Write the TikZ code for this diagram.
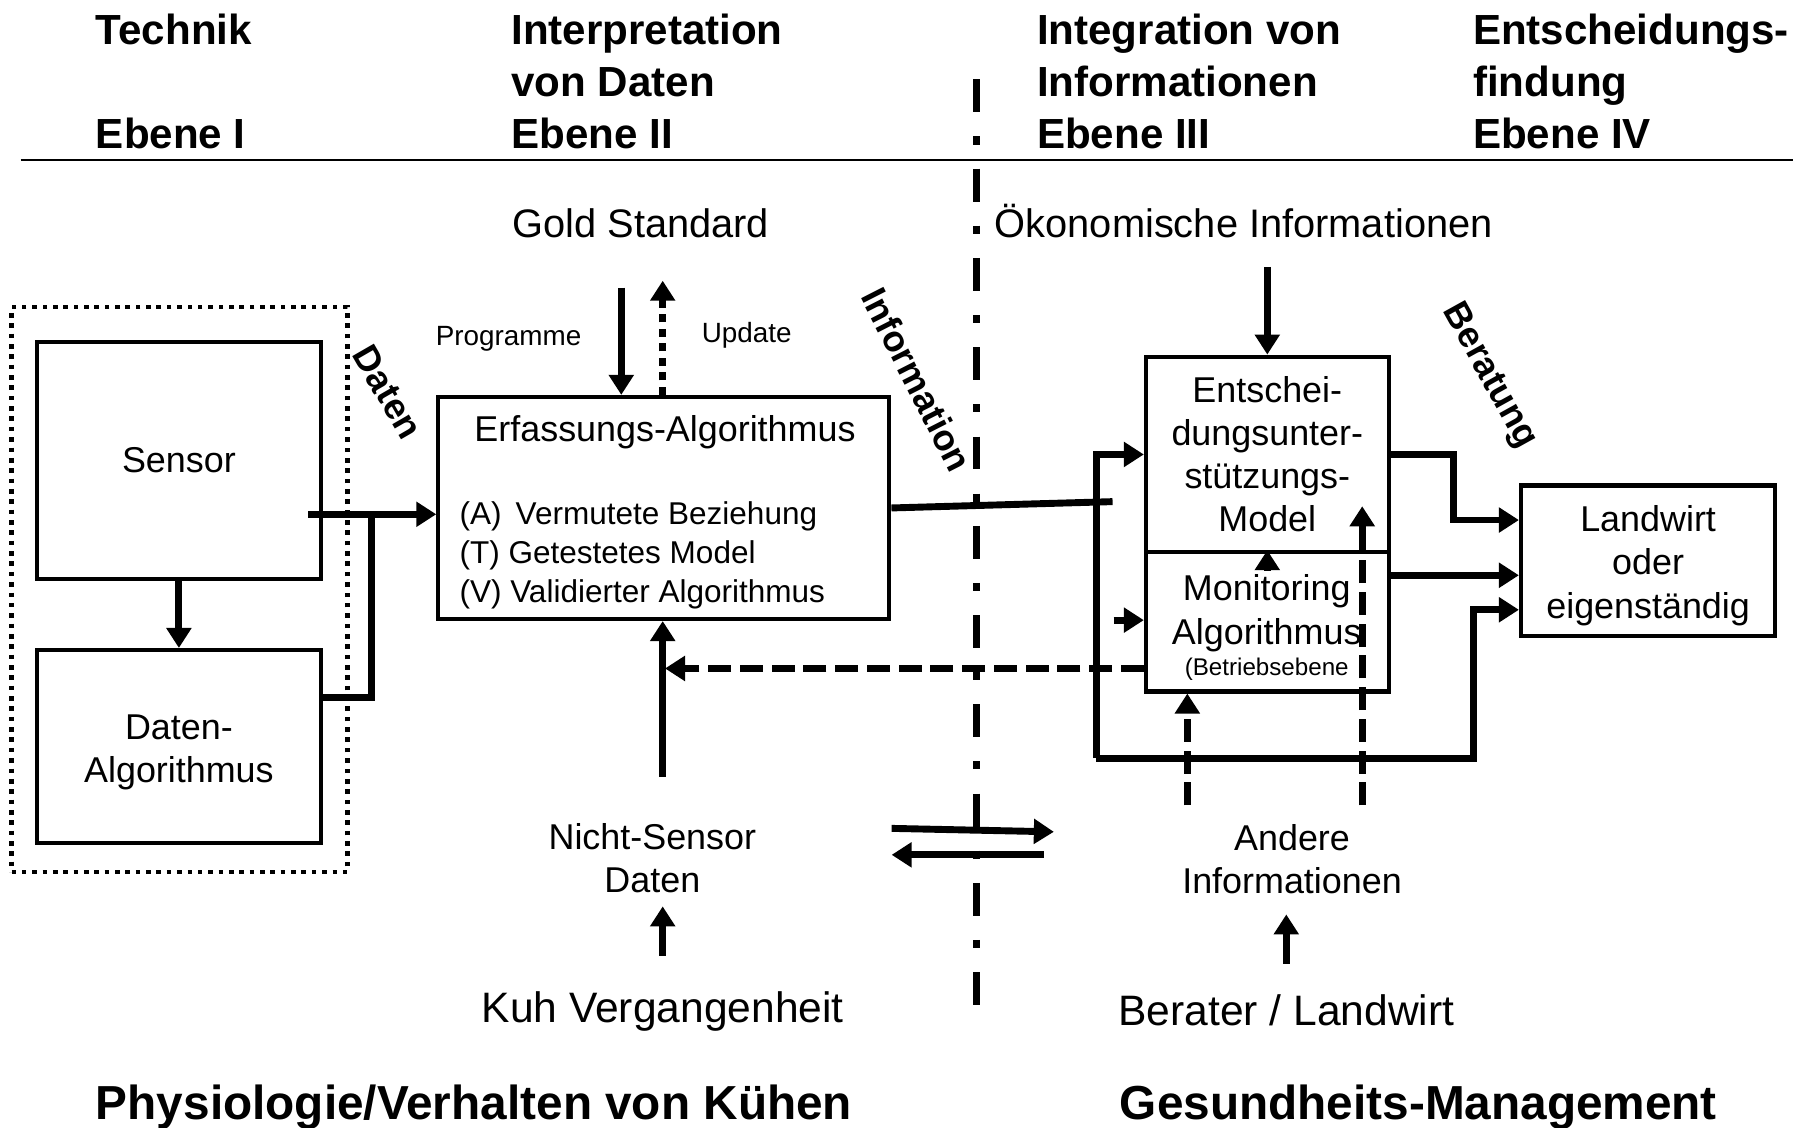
\documentclass[tikz,border=0pt]{standalone}
\usepackage{fontspec}
\setmainfont{Liberation Sans}
\usetikzlibrary{arrows.meta,positioning,calc}

\tikzset{
  box/.style={draw, line width=1.8pt, inner sep=0pt, align=center,
    font=\fontsize{15.6pt}{18.7pt}\selectfont},
  dotframe/.style={draw, line width=2pt, dash pattern=on 2pt off 2.5pt, inner sep=0pt},
  head/.style={anchor=north west, inner sep=0pt, align=left,
    font=\bfseries\fontsize{18.3pt}{22.5pt}\selectfont},
  foot/.style={anchor=base west, inner sep=0pt, font=\bfseries\fontsize{20.75pt}{24pt}\selectfont},
  txt/.style={inner sep=0pt, align=center, font=\fontsize{15.6pt}{18.7pt}\selectfont},
  bigtxt/.style={inner sep=0pt, anchor=base, font=\fontsize{17.3pt}{20pt}\selectfont},
  smalltxt/.style={inner sep=0pt, anchor=base, font=\fontsize{12.1pt}{14pt}\selectfont},
  rot/.style={inner sep=0pt, font=\bfseries\fontsize{15.8pt}{18pt}\selectfont},
  line/.style={line width=3pt},
  arr/.style={line width=3pt, -{Triangle[length=8.7pt,width=10.5pt]}},
  dasharr/.style={arr, dash pattern=on 10pt off 3.8pt},
  dotarr/.style={arr, dash pattern=on 3.5pt off 2.8pt},
  divider/.style={line width=3.2pt, dash pattern=on 14.3pt off 10.5pt on 3.5pt off 10.5pt}
}

\begin{document}
\begin{tikzpicture}[x=0.5pt, y=-0.5pt]
  \useasboundingbox (0,0) rectangle (1568,980);

  % headings
  \node[head] (h1) at (83,12) {Technik\\\mbox{}\\Ebene I};
  \node[head] (h2) at (444,12) {Interpretation\\von Daten\\Ebene II};
  \node[head] (h3) at (901,12) {Integration von\\Informationen\\Ebene III};
  \node[head] (h4) at (1280,12) {Entscheidungs-\\findung\\Ebene IV};
  \coordinate (rulel) at (18,139);
  \coordinate (ruler) at (1558,139);
  \draw[line width=1pt] (rulel) -- (ruler);

  \coordinate (divtop) at (849,69);
  \coordinate (divbot) at (849,892);
  \draw[divider] (divtop) -- (divbot);

  % Ebene I
  \node[dotframe, minimum width=146pt, minimum height=245.5pt] (techframe) at (156,512.5) {};
  \node[box, minimum width=123.5pt, minimum height=103pt] (sensor) at (155.5,400) {Sensor};
  \node[box, minimum width=123.5pt, minimum height=84pt] (dalgo) at (155.5,649) {\rule{0pt}{15.5pt}Daten-\\Algorithmus};
  \node[rot, rotate=-60] (datenlbl) at (337,341) {Daten};

  % Ebene II
  \node[box, minimum width=196pt, minimum height=96.5pt] (erfass) at (577,441.5) {};
  \node[txt, anchor=base] (erfasstitle) at (578,384) {Erfassungs-Algorithmus};
  \node[inner sep=0pt, anchor=north west, align=left, font=\fontsize{13.7pt}{16.75pt}\selectfont]
    (erfasslist) at (399,436) {(A)\hspace{.45em}Vermutete Beziehung\\(T) Getestetes Model\\(V) Validierter Algorithmus};
  \node[bigtxt] (gold) at (557,206) {Gold Standard};
  \node[smalltxt] (prog) at (442,300) {Programme};
  \node[smalltxt] (upd) at (649,298) {Update};
  \node[txt] (nonsens) at (567,746) {Nicht-Sensor\\Daten};
  \node[bigtxt, font=\fontsize{18.5pt}{20pt}\selectfont] (cowhist) at (576,889) {Kuh Vergangenheit};
  \node[rot, rotate=-63] (infolbl) at (797,330) {Information};

  % Ebene III / IV
  \node[bigtxt] (oekon) at (1081,206) {Ökonomische Informationen};
  \node[box, minimum width=105.5pt, minimum height=85pt] (entsch) at (1101.5,395) {Entschei-\\dungsunter-\\stützungs-\\Model};
  \node[box, minimum width=105.5pt, minimum height=60.5pt] (monitor) at (1101.5,540.5) {};
  \node[txt] (montext) at (1101,533) {Monitoring\\Algorithmus};
  \node[inner sep=0pt, anchor=base, font=\fontsize{10.5pt}{12pt}\selectfont] (monsub) at (1101,587.5) {(Betriebsebene};
  \node[box, minimum width=110.5pt, minimum height=65.5pt] (farmer) at (1432.5,487.5) {\rule{0pt}{15.5pt}Landwirt\\oder\\eigenständig};
  \node[txt] (otherinfo) at (1123,746.5) {Andere\\Informationen};
  \node[bigtxt, font=\fontsize{18.5pt}{20pt}\selectfont] (advisor) at (1118,891) {Berater / Landwirt};
  \node[rot, rotate=-61] (beratlbl) at (1294,327) {Beratung};

  \node[foot] (physio) at (83,973) {Physiologie/Verhalten von Kühen};
  \node[foot] (health) at (973,973) {Gesundheits-Management};

  % Ebene I connections
  \draw[arr] (sensor) -- (dalgo);
  \coordinate (sensout) at (268,447);
  \draw[arr] (sensout) -- (sensout -| erfass.west);
  \coordinate (dajoin) at (323,606);
  \coordinate (datop) at (323,447);
  \draw[line] (dalgo.east |- dajoin) -- (dajoin) -- (datop);

  % Ebene II connections
  \coordinate (progtop) at (540,250);
  \draw[arr] (progtop) -- (progtop |- erfass.north);
  \coordinate (updtop) at (576,244);
  \draw[dotarr] (updtop |- erfass.north) -- (updtop);
  \coordinate (nsup) at (576,675);
  \draw[arr] (nsup) -- (nsup |- erfass.south);
  \draw[arr] ([yshift=15.5pt]cowhist.north) -- ++(0,-43);
  \coordinate (infoend) at (967,436);
  \draw[line] (erfass.east) -- (infoend);

  % exchange across the divider
  \coordinate (swa) at (775,720);
  \coordinate (swb) at (916,723);
  \draw[arr] (swa) -- (swb);
  \coordinate (swc) at (907,743);
  \coordinate (swd) at (775,743);
  \draw[arr] (swc) -- (swd);

  % Ebene III connections
  \coordinate (oekstart) at (1101.5,232);
  \draw[arr] (oekstart) -- (entsch.north);
  \coordinate (brkbot) at (953,659);
  \coordinate (brkright) at (1281,659);
  \draw[arr] (brkbot) |- (entsch.west);
  \draw[arr] (brkbot) -- (brkright) |- ($(farmer.west)+(0,42.5)$);
  \coordinate (monin) at (968,539);
  \draw[arr] (monin) -- (monin -| monitor.west);
  \coordinate (fbend) at (578,581);
  \draw[dasharr] (monitor.west |- fbend) -- (fbend);
  \draw[arr] ($(monitor.north)+(0,18)$) -- (monitor.north);
  \coordinate (other1) at (1032,700);
  \draw[dasharr] (other1) -- (other1 |- monitor.south);
  \coordinate (other2) at (1184,700);
  \coordinate (other2tip) at (1184,440);
  \draw[line, dash pattern=on 10pt off 3.8pt] (other2) -- (other2 |- monitor.north);
  \draw[arr] (other2 |- monitor.north) -- (other2tip);
  \draw[arr] ([yshift=13pt]advisor.north) -- ++(0,-43);

  % Ebene IV connections
  \coordinate (ebend) at (1263,395);
  \draw[arr] (entsch.east) -- (ebend) |- ($(farmer.west)+(0,-35.5)$);
  \coordinate (monout) at ($(monitor.east)+(0,-40.5)$);
  \draw[arr] (monout) -- (monout -| farmer.west);
\end{tikzpicture}
\end{document}
